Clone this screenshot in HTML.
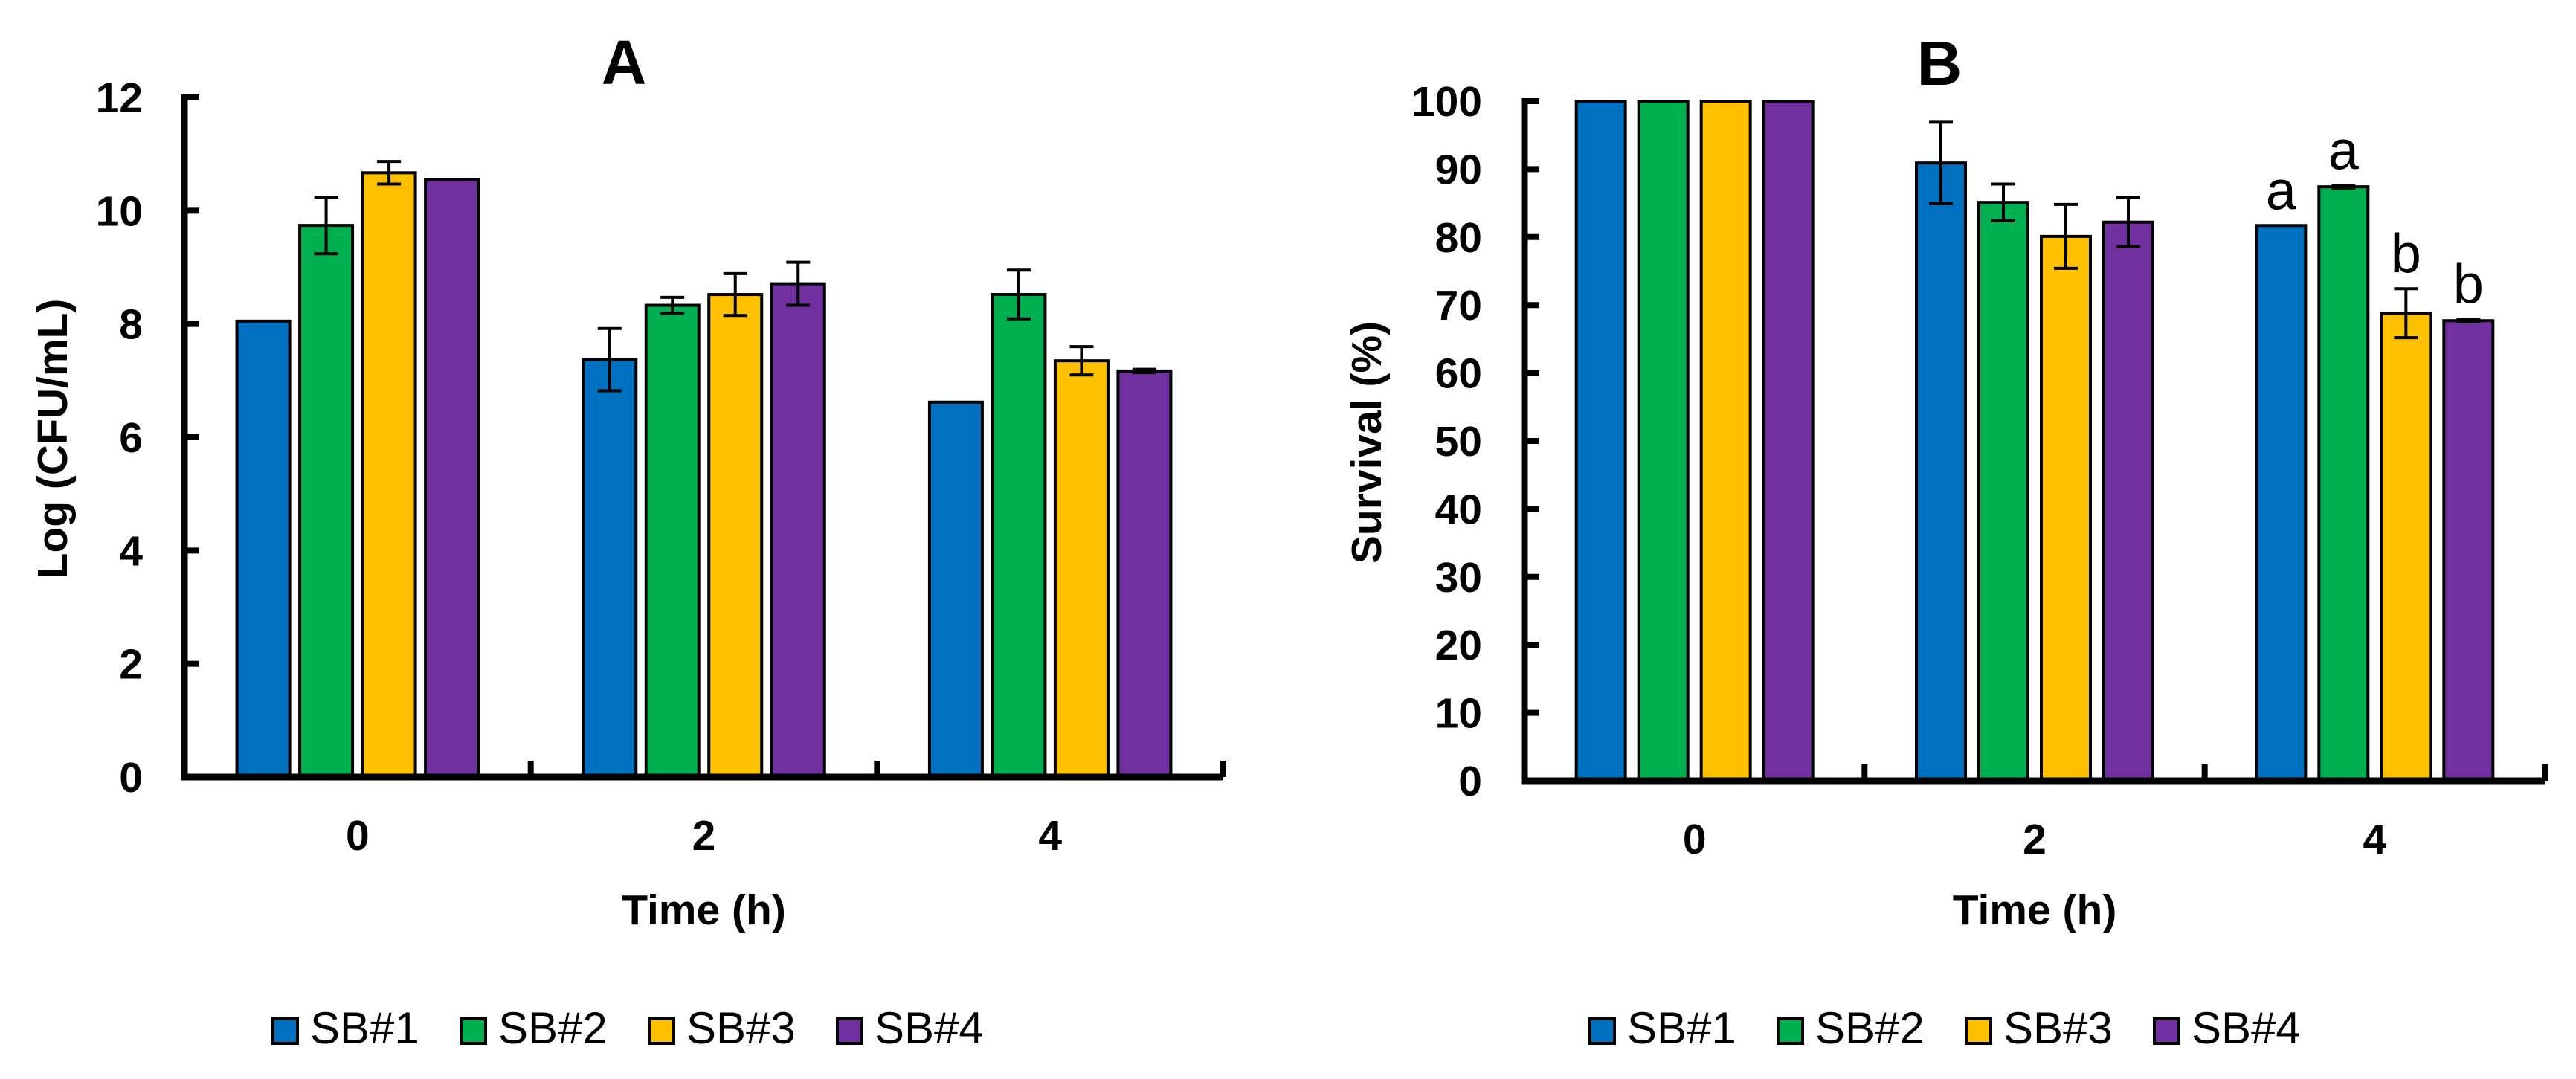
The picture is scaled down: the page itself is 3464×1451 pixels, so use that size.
<!DOCTYPE html>
<html><head><meta charset="utf-8"><style>
html,body{margin:0;padding:0;background:#fff;}
svg{display:block;}
text{font-family:"Liberation Sans",Arial,sans-serif;}
</style></head><body>
<svg id="fig" width="3464" height="1451" viewBox="0 0 3464 1451" xmlns="http://www.w3.org/2000/svg">
<rect width="3464" height="1451" fill="#fff"/>
<g id="panelA"></g>
<g id="panelB"></g>
</svg>
<script>
const categories = ["0","2","4"];
const seriesNames = ["SB#1","SB#2","SB#3","SB#4"];
const seriesColors = ["#0070C0","#00B050","#FFC000","#7030A0"];
// Panel A: Log (CFU/mL)
const aSB1 = [8.05, 7.37, 6.62];
const aSB2 = [9.74, 8.33, 8.52];
const aSB3 = [10.67, 8.52, 7.35];
const aSB4 = [10.55, 8.71, 7.17];
const aErr1 = [0, 0.55, 0];
const aErr2 = [0.5, 0.14, 0.43];
const aErr3 = [0.2, 0.37, 0.25];
const aErr4 = [0, 0.38, 0.03];
const aTicks = [0,2,4,6,8,10,12];
// Panel B: Survival (%)
const bSB1 = [100, 90.9, 81.7];
const bSB2 = [100, 85.1, 87.4];
const bSB3 = [100, 80.1, 68.8];
const bSB4 = [100, 82.2, 67.7];
const bErr1 = [0, 6.0, 0];
const bErr2 = [0, 2.7, 0.2];
const bErr3 = [0, 4.7, 3.6];
const bErr4 = [0, 3.6, 0.2];
const bTicks = [0,10,20,30,40,50,60,70,80,90,100];
const bLetters = ["a","a","b","b"];

const NS = "http://www.w3.org/2000/svg";
function mk(tag, attrs, parent){
  const e = document.createElementNS(NS, tag);
  for (const k in attrs) e.setAttribute(k, attrs[k]);
  parent.appendChild(e);
  return e;
}

function drawPanel(g, cfg){
  const yScale = v => cfg.y0 - (v - cfg.min)/(cfg.max - cfg.min)*(cfg.y0 - cfg.yTop);
  const catW = (cfg.xEnd - cfg.x0)/cfg.cats.length;
  const xCenter = i => cfg.x0 + catW*(i+0.5);

  const t = mk("text",{x:cfg.titleX,y:cfg.titleY,"font-size":84,"font-weight":"bold","text-anchor":"middle",fill:"#000"},g);
  
  
  t.textContent = cfg.title;

  cfg.series.forEach((vals, s) => {
    vals.forEach((v, i) => {
      const groupLeft = xCenter(i) - (4*cfg.pitch - (cfg.pitch-cfg.barW))/2;
      const x = groupLeft + s*cfg.pitch;
      const yv = yScale(v);
      const r = mk("rect",{x:x+2,y:yv,width:cfg.barW-4,height:cfg.y0-yv,fill:seriesColors[s],stroke:"#000","stroke-width":4},g);
      
      
      const err = cfg.errs[s][i];
      if (err > 0){
        const cx = x + cfg.barW/2;
        const e = mk("path",{d:`M${cx} ${yScale(v-err)}V${yScale(v+err)}M${cx-16} ${yScale(v+err)}H${cx+16}M${cx-16} ${yScale(v-err)}H${cx+16}`,stroke:"#000","stroke-width":4,fill:"none"},g);
        
        
      }
      if (cfg.letters && i === cfg.cats.length-1){
        const top = yScale(v+err);
        const lt = mk("text",{x:x+cfg.barW/2,y:top-22,"font-size":74,"text-anchor":"middle",fill:"#000"},g);
        
        
        lt.textContent = cfg.letters[s];
      }
    });
  });

  const ax = mk("path",{d:`M${cfg.x0} ${cfg.yTop-4}V${cfg.y0}H${cfg.xEnd}`,stroke:"#000","stroke-width":9,fill:"none"},g);
  
  
  cfg.ticks.forEach(v => {
    const y = yScale(v);
    const tk = mk("line",{x1:cfg.x0,x2:cfg.x0+20,y1:y,y2:y,stroke:"#000","stroke-width":8},g);
    
    
    const tl = mk("text",{x:cfg.labelRight,y:y+20,"font-size":57,"font-weight":"bold","text-anchor":"end",fill:"#000"},g);
    
    
    tl.textContent = v;
  });
  for (let i=1;i<=cfg.cats.length;i++){
    const x = cfg.x0 + catW*i;
    const tk = mk("line",{x1:x,x2:x,y1:cfg.y0,y2:cfg.y0-22,stroke:"#000","stroke-width":8},g);
    
    
  }
  cfg.cats.forEach((c,i) => {
    const tl = mk("text",{x:xCenter(i),y:cfg.y0+98,"font-size":57,"font-weight":"bold","text-anchor":"middle",fill:"#000"},g);
    
    
    tl.textContent = c;
  });
  const xt = mk("text",{x:(cfg.x0+cfg.xEnd)/2,y:1243,"font-size":57,"font-weight":"bold","text-anchor":"middle",fill:"#000"},g);
  
  
  xt.textContent = "Time (h)";
  const yt = mk("text",{x:0,y:0,"font-size":57,"font-weight":"bold","text-anchor":"middle",fill:"#000",transform:`translate(${cfg.yTitleX} ${cfg.yTitleY}) rotate(-90)`},g);
  
  
  yt.textContent = cfg.yTitle;

  seriesNames.forEach((n,s) => {
    const lx = cfg.legendX + s*253;
    const sw = mk("rect",{x:lx+2,y:1370,width:33,height:33,fill:seriesColors[s],stroke:"#000","stroke-width":4},g);
    
    
    const lt = mk("text",{x:lx+52,y:1403,"font-size":60,fill:"#000"},g);
    
    
    lt.textContent = n;
  });
}

drawPanel(document.getElementById('panelA'),{
  title:"A", titleX:839, titleY:113,
  x0:248, xEnd:1645, y0:1045, yTop:131, min:0, max:12,
  ticks:aTicks, labelRight:192, cats:categories,
  series:[aSB1,aSB2,aSB3,aSB4], errs:[aErr1,aErr2,aErr3,aErr4],
  barW:75, pitch:84.5,
  yTitle:"Log (CFU/mL)", yTitleX:90, yTitleY:590,
  legendX:365
});
drawPanel(document.getElementById('panelB'),{
  title:"B", titleX:2608, titleY:114,
  x0:2050, xEnd:3422, y0:1050, yTop:136, min:0, max:100,
  ticks:bTicks, labelRight:1993, cats:categories,
  series:[bSB1,bSB2,bSB3,bSB4], errs:[bErr1,bErr2,bErr3,bErr4],
  barW:70, pitch:84, letters:bLetters,
  yTitle:"Survival (%)", yTitleX:1857, yTitleY:595,
  legendX:2136
});
</script>
</body></html>
